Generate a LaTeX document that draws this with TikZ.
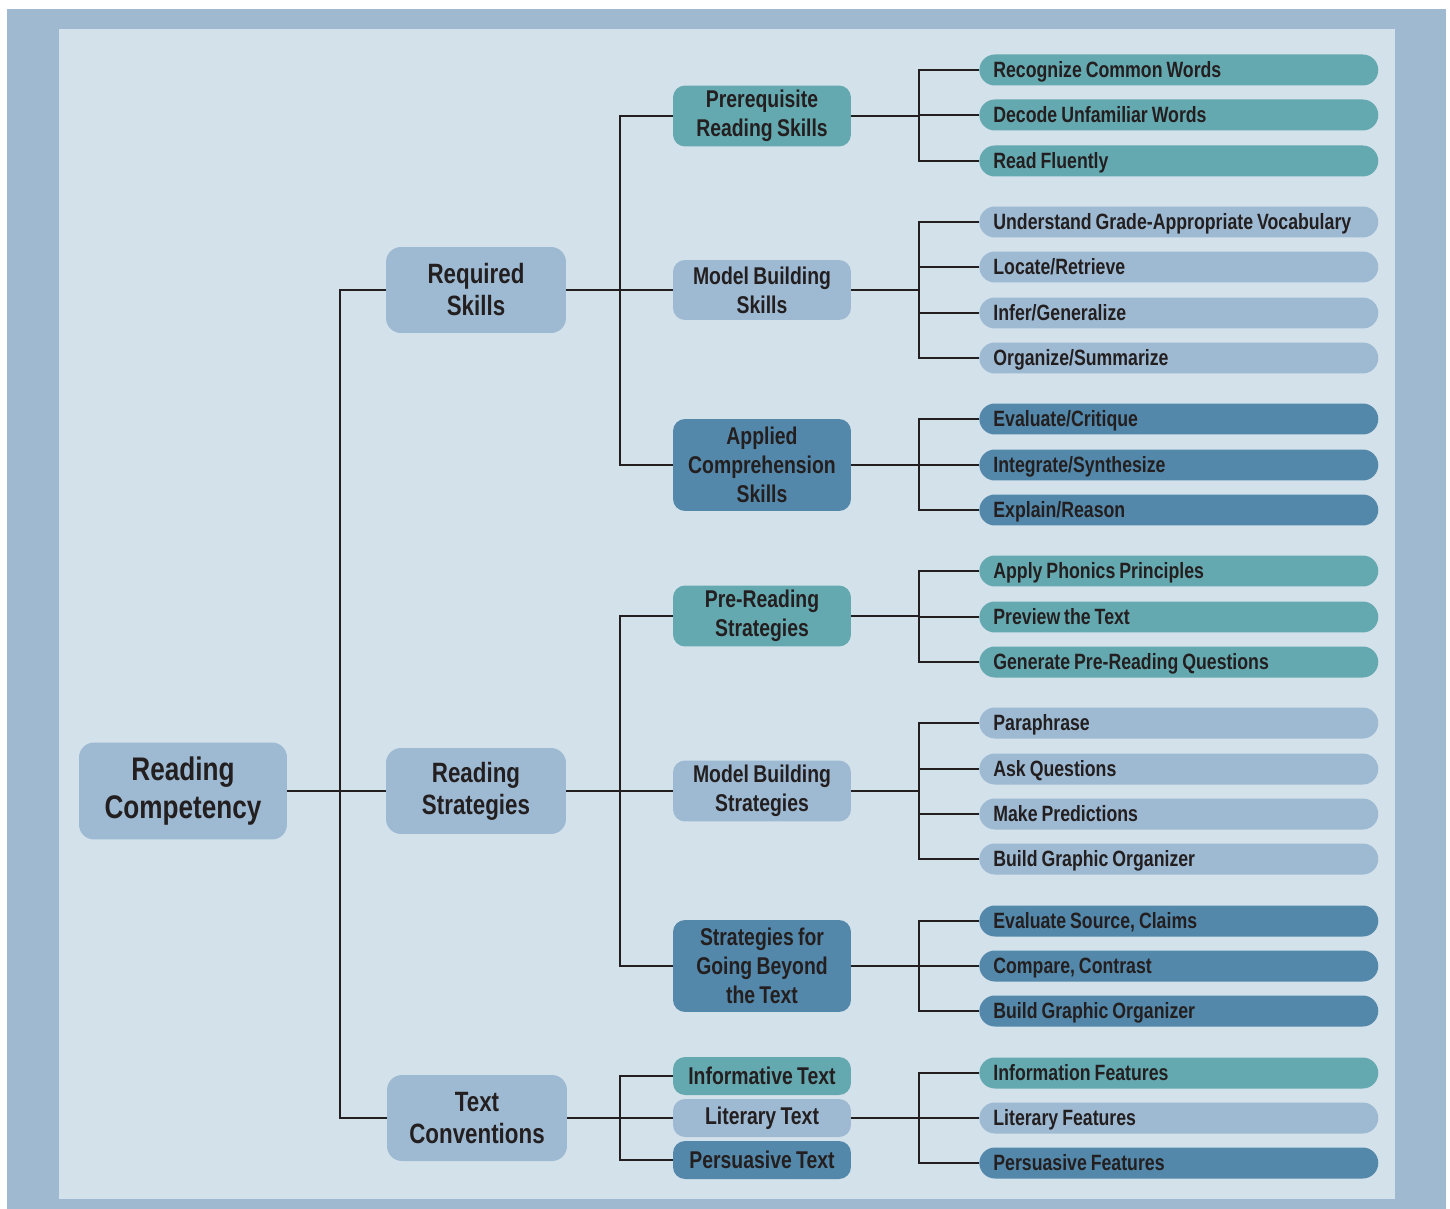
\documentclass[tikz,border=0pt]{standalone}
\usepackage{fontspec}
\setmainfont{Liberation Sans}[FakeStretch=0.8, WordSpace=0.8]
\definecolor{cOuter}{HTML}{9FB9D0}
\definecolor{cInner}{HTML}{D3E1EB}
\definecolor{cTeal}{HTML}{65A9B0}
\definecolor{cPale}{HTML}{9EBAD2}
\definecolor{cDeep}{HTML}{5388AA}
\definecolor{ink}{HTML}{231F20}
\tikzset{
  wire/.style={draw=ink, line width=0.75pt},
  rootbox/.style={fill=cPale, rounded corners=0.3cm, minimum width=4.16cm,
    minimum height=1.94cm, align=flush center, inner sep=0pt,
    font=\bfseries\fontsize{18.6}{22}\selectfont},
  groupbox/.style={fill=cPale, rounded corners=0.3cm, minimum width=3.6cm,
    minimum height=1.72cm, align=flush center, inner sep=0pt,
    font=\bfseries\fontsize{15.9}{18.2}\selectfont},
  subbox/.style={rounded corners=0.24cm, minimum width=3.56cm,
    align=flush center, inner sep=0pt,
    font=\bfseries\fontsize{13.8}{16.4}\selectfont},
  leafbox/.style={anchor=west, rounded corners=0.31cm, text width=7.42cm,
    minimum height=0.62cm, align=flush left, inner xsep=0.28cm, inner ysep=0pt,
    text height=1.85ex, text depth=0.3ex,
    font=\bfseries\fontsize{12.6}{14}\selectfont},
}
\begin{document}
\begin{tikzpicture}[x=0.02cm, y=-0.02cm, every node/.style={text=ink}]
\useasboundingbox (0,0) rectangle (1450,1209) ;
\fill[cOuter] (7,9) rectangle (1446,1209) ;
\fill[cInner] (59,29) rectangle (1395,1199) ;
% bus positions
\coordinate (t1) at (340,0) ;
\coordinate (t2) at (620,0) ;
\coordinate (t3) at (919,0) ;
% root and first level
\node[rootbox] (rc) at (183,791) {Reading\\Competency} ;
\node[groupbox] (rs) at (476,290) {Required\\Skills} ;
\node[groupbox] (st) at (476,791) {Reading\\Strategies} ;
\node[groupbox] (tc) at (477,1118) {Text\\Conventions} ;
% second level
\node[subbox, fill=cTeal, minimum height=1.22cm] (prs) at (762,116) {Prerequisite\\Reading Skills} ;
\node[subbox, fill=cPale, minimum height=1.2cm] (mbs) at (762,290) {Model Building\\Skills} ;
\node[subbox, fill=cDeep, minimum height=1.84cm] (acs) at (762,465) {Applied\\Comprehension\\Skills} ;
\node[subbox, fill=cTeal, minimum height=1.22cm] (prst) at (762,616) {Pre-Reading\\Strategies} ;
\node[subbox, fill=cPale, minimum height=1.22cm] (mbst) at (762,791) {Model Building\\Strategies} ;
\node[subbox, fill=cDeep, minimum height=1.84cm] (gbt) at (762,966) {Strategies for\\Going Beyond\\the Text} ;
\node[subbox, fill=cTeal, minimum height=0.76cm] (inf) at (762,1076) {Informative Text} ;
\node[subbox, fill=cPale, minimum height=0.76cm] (lit) at (762,1118) {Literary Text} ;
\node[subbox, fill=cDeep, minimum height=0.76cm] (per) at (762,1160) {Persuasive Text} ;
% leaves
\foreach \y/\n/\t/\c in {70/a1/Recognize Common Words/cTeal, 115/a2/Decode Unfamiliar Words/cTeal,
    161/a3/Read Fluently/cTeal,
    222/b1/Understand Grade-Appropriate Vocabulary/cPale, 267/b2/Locate\slash Retrieve/cPale,
    313/b3/Infer\slash Generalize/cPale, 358/b4/Organize\slash Summarize/cPale,
    419/c1/Evaluate\slash Critique/cDeep, 465/c2/Integrate\slash Synthesize/cDeep,
    510/c3/Explain\slash Reason/cDeep,
    571/d1/Apply Phonics Principles/cTeal, 617/d2/Preview the Text/cTeal,
    662/d3/Generate Pre-Reading Questions/cTeal,
    723/e1/Paraphrase/cPale, 769/e2/Ask Questions/cPale, 814/e3/Make Predictions/cPale,
    859/e4/Build Graphic Organizer/cPale,
    921/f1/{Evaluate Source, Claims}/cDeep, 966/f2/{Compare, Contrast}/cDeep,
    1011/f3/Build Graphic Organizer/cDeep,
    1073/g1/Information Features/cTeal, 1118/g2/Literary Features/cPale,
    1163/g3/Persuasive Features/cDeep}
  \node[leafbox, fill=\c] (\n) at (979,\y) {\t} ;
% connectors
\foreach \c in {rs, st, tc}
  \draw[wire] (rc.east) -- (rc.east -| t1) |- (\c.west) ;
\foreach \p/\c in {rs/prs, rs/mbs, rs/acs, st/prst, st/mbst, st/gbt, tc/inf, tc/lit, tc/per}
  \draw[wire] (\p.east) -- (\p.east -| t2) |- (\c.west) ;
\foreach \p/\c in {prs/a1, prs/a2, prs/a3, mbs/b1, mbs/b2, mbs/b3, mbs/b4,
    acs/c1, acs/c2, acs/c3, prst/d1, prst/d2, prst/d3,
    mbst/e1, mbst/e2, mbst/e3, mbst/e4, gbt/f1, gbt/f2, gbt/f3,
    lit/g1, lit/g2, lit/g3}
  \draw[wire] (\p.east) -- (\p.east -| t3) |- (\c.west) ;
\end{tikzpicture}
\end{document}
